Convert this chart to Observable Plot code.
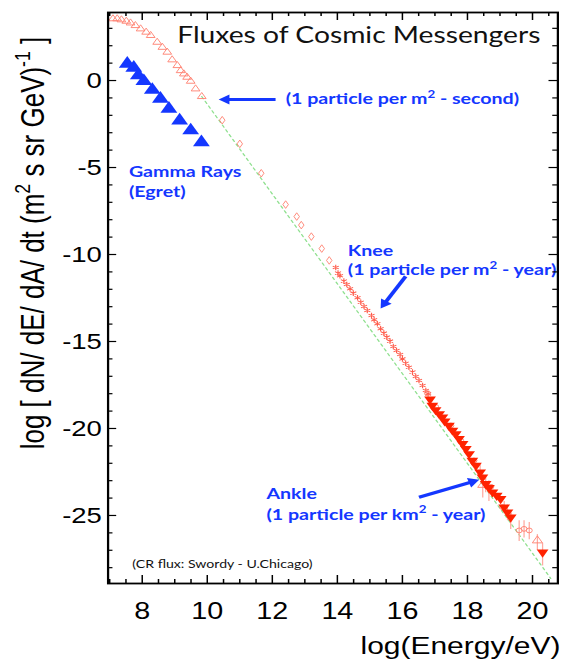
<!DOCTYPE html>
<html>
<head>
<meta charset="utf-8">
<script src="https://cdn.jsdelivr.net/npm/d3@7"></script>
<script src="https://cdn.jsdelivr.net/npm/@observablehq/plot@0.6"></script>
<style>
  html, body { margin: 0; padding: 0; background: #fff; overflow: hidden; }
  #chart svg { display: block; }
</style>
</head>
<body>
<div id="chart"></div>
<script>
// ---- Cosmic-ray flux: log10 flux vs log10 energy --------------------------

// Direct measurements below ~10 GeV (open up-triangles)
const lowEnergyX = [7.10, 7.23, 7.36, 7.51, 7.64, 7.79, 7.95, 8.12, 8.26, 8.46, 8.62, 8.77, 8.92, 9.08, 9.18, 9.28, 9.38, 9.49, 9.64, 9.83];
const lowEnergyY = [3.55, 3.55, 3.49, 3.41, 3.31, 3.16, 2.97, 2.78, 2.59, 2.20, 1.91, 1.63, 1.19, 0.86, 0.57, 0.38, 0.19, -0.04, -0.48, -0.92];

// Balloon / satellite points (open diamonds)
const midEnergyX = [10.46, 11.00, 11.66, 12.41, 12.75, 12.89, 13.20, 13.52, 13.75];
const midEnergyY = [-2.28, -3.64, -5.33, -7.13, -7.82, -8.31, -8.97, -9.66, -10.34];

// Air-shower points around the knee (asterisks)
const kneeX = [13.95, 14.02, 14.08, 14.20, 14.29, 14.39, 14.49, 14.62, 14.72, 14.82, 14.92, 15.05, 15.13, 15.23, 15.33, 15.43, 15.52, 15.62, 15.72, 15.82, 15.93, 16.00, 16.10, 16.20, 16.31, 16.41, 16.51, 16.62, 16.72, 16.79];
const kneeY = [-10.75, -11.07, -11.22, -11.53, -11.72, -11.97, -12.22, -12.49, -12.74, -12.99, -13.22, -13.51, -13.75, -13.98, -14.27, -14.52, -14.75, -14.98, -15.29, -15.52, -15.75, -16.00, -16.25, -16.48, -16.76, -17.01, -17.24, -17.53, -17.82, -18.01];

// Highest-energy points (filled down-triangles)
const highX = [16.85, 16.92, 17.02, 17.13, 17.23, 17.30, 17.43, 17.54, 17.64, 17.74, 17.85, 17.95, 18.05, 18.15, 18.26, 18.39, 18.46, 18.56, 18.66, 18.77, 18.90, 19.02, 19.13, 19.23, 19.33, 20.31];
const highY = [-18.32, -18.68, -18.93, -19.16, -19.35, -19.58, -19.83, -20.11, -20.31, -20.59, -20.88, -21.17, -21.46, -21.84, -22.13, -22.51, -22.80, -23.18, -23.41, -23.66, -23.85, -24.04, -24.52, -24.81, -25.10, -27.11];

// Other ankle-region measurements (open circles, open triangles)
const ankleX = [16.77, 17.02, 17.49, 17.79, 18.20, 18.72, 19.08, 19.25, 19.59, 19.74, 19.90];
const ankleY = [-17.97, -18.75, -19.83, -20.69, -21.84, -23.35, -24.52, -24.90, -25.86, -25.77, -25.86];
const ankleTriX = [18.47, 20.15];
const ankleTriY = [-23.25, -26.44];

// Error bars (lower and upper ends)
const errX  = [18.39, 18.47, 18.56, 18.66, 19.13, 19.23, 19.33, 19.59, 19.74, 19.90, 20.15, 20.31];
const errLo = [-22.9, -24.0, -23.7, -24.2, -24.9, -25.3, -25.8, -26.5, -26.3, -26.4, -27.0, -27.9];
const errHi = [-22.1, -22.6, -22.7, -23.0, -24.2, -24.4, -24.8, -25.3, -25.3, -25.4, -26.1, -26.6];

// Reference power law drawn through the spectrum
const fitX = [9.83, 20.56];
const fitY = [-0.92, -28.62];

// Gamma rays (EGRET)
const gammaX = [7.54, 7.74, 7.88, 8.05, 8.31, 8.56, 8.82, 9.15, 9.49, 9.82];
const gammaY = [0.96, 0.73, 0.29, -0.04, -0.54, -1.05, -1.63, -2.30, -2.87, -3.55];

// Annotations (text baselines in data units)
const noteText = ["(1 particle per m² - second)", "Gamma Rays", "(Egret)", "Knee", "(1 particle per m² - year)", "Ankle", "(1 particle per km² - year)"];
const noteX = [12.41, 7.59, 7.59, 14.32, 14.32, 11.82, 11.82];
const noteY = [-1.34, -5.56, -6.72, -10.11, -11.19, -24.06, -25.24];

// Annotation arrows: tail and tip
const arrowTailX = [12.10, 16.10, 16.51];
const arrowTailY = [-1.09, -11.26, -23.95];
const arrowTipX = [10.35, 15.33, 18.36];
const arrowTipY = [-1.09, -13.10, -22.95];

// Axes
const xMajorTicks = [8, 10, 12, 14, 16, 18, 20];
const xTickLabels = ["8", "10", "12", "14", "16", "18", "20"];
const yMajorTicks = [0, -5, -10, -15, -20, -25];
const yTickLabels = ["0", "-5", "-10", "-15", "-20", "-25"];
const xTitle = "log(Energy/eV)";
const yTitle = "log [ dN/ dE/ dA/ dt (m² s sr GeV)⁻¹ ]";
const chartTitle = "Fluxes of Cosmic Messengers";
const creditText = "(CR flux: Swordy - U.Chicago)";

// ---- Layout ---------------------------------------------------------------
const W = 449, H = 660;            // drawing units; stretched to 561px wide
const OUT_W = 561;
const ML = 86, MR = 3, MT = 12, MB = 77;
const innerW = W - ML - MR, innerH = H - MT - MB;
const xDomain = [6.95, 20.78];
const yDomain = [-28.91, 3.91];

const BLUE = "#1437ff";
const CR_OPEN = "#ff7f6e";
const CR_STAR = "#ff5a4a";
const CR_FILL = "#ff2200";
const ERR = "#ffa99f";
const FIT = "#8fe08f";
const AXIS_FONT = "'Liberation Sans', Arial, sans-serif";
const NOTE_FONT = "Lato, 'Open Sans', sans-serif";

const zip = (xs, ys) => xs.map((x, i) => ({x, y: ys[i]}));
const lowPts = zip(lowEnergyX, lowEnergyY);
const midPts = zip(midEnergyX, midEnergyY);
const kneePts = zip(kneeX, kneeY);
const highPts = zip(highX, highY);
const anklePts = zip(ankleX, ankleY);
const ankleTriPts = zip(ankleTriX, ankleTriY);
const errBars = errX.map((x, i) => ({x, lo: errLo[i], hi: errHi[i]}));
const fitPts = zip(fitX, fitY);
const gammaPts = zip(gammaX, gammaY);
const notes = noteText.map((t, i) => ({t, x: noteX[i], y: noteY[i]}));

const xMinorTicks = d3.range(7, 20.75, 0.5).filter(v => !xMajorTicks.includes(v));
const yMinorTicks = d3.range(-28, 4, 1).filter(v => !yMajorTicks.includes(v));

// Arrow heads: filled triangles whose tip lands on the arrow target
const HEAD_R = 3.7;
const sx = d3.scaleLinear().domain(xDomain).range([ML, W - MR]);
const sy = d3.scaleLinear().domain(yDomain).range([H - MB, MT]);
const arrows = arrowTipX.map((tx, i) => {
  const x0 = sx(arrowTailX[i]), y0 = sy(arrowTailY[i]);
  const x1 = sx(tx), y1 = sy(arrowTipY[i]);
  const dx = x1 - x0, dy = y1 - y0, n = Math.hypot(dx, dy);
  const back = 1.555 * HEAD_R;
  const cx = x1 - dx / n * back, cy = y1 - dy / n * back;
  return {
    x1: arrowTailX[i], y1: arrowTailY[i],
    x2: sx.invert(cx), y2: sy.invert(cy),
    angle: Math.atan2(dx, -dy) * 180 / Math.PI
  };
});

const tickStyle = {stroke: "black", strokeWidth: 1.2};

const svg = Plot.plot({
  width: W,
  height: H,
  marginLeft: ML,
  marginRight: MR,
  marginTop: MT,
  marginBottom: MB,
  x: {domain: xDomain, axis: null},
  y: {domain: yDomain, axis: null},
  style: {background: "white", color: "black", overflow: "visible"},
  marks: [
    // power-law guide
    Plot.line(fitPts, {x: "x", y: "y", stroke: FIT, strokeWidth: 1.1, strokeDasharray: "2.5,3"}),

    // cosmic-ray data
    Plot.ruleX(errBars, {x: "x", y1: "lo", y2: "hi", stroke: ERR, strokeWidth: 1}),
    Plot.dot(lowPts, {x: "x", y: "y", symbol: "triangle", r: 2.6, fill: "none", stroke: CR_OPEN, strokeWidth: 0.8}),
    Plot.dot(midPts, {x: "x", y: "y", symbol: "diamond", r: 2.3, fill: "none", stroke: CR_OPEN, strokeWidth: 0.8}),
    Plot.dot(kneePts, {x: "x", y: "y", symbol: "asterisk", r: 2.6, stroke: CR_STAR, strokeWidth: 0.9}),
    Plot.dot(anklePts, {x: "x", y: "y", symbol: "circle", r: 2.4, fill: "none", stroke: CR_OPEN, strokeWidth: 0.8}),
    Plot.dot(ankleTriPts, {x: "x", y: "y", symbol: "triangle", r: 3, fill: "none", stroke: CR_OPEN, strokeWidth: 0.8}),
    Plot.dot(highPts, {x: "x", y: "y", symbol: "triangle", rotate: 180, r: 3.5, fill: CR_FILL, stroke: "none"}),

    // gamma rays
    Plot.dot(gammaPts, {x: "x", y: "y", symbol: "triangle", r: 5, fill: BLUE, stroke: "none"}),

    // annotation arrows and labels
    Plot.link(arrows, {x1: "x1", y1: "y1", x2: "x2", y2: "y2", stroke: BLUE, strokeWidth: 3.2}),
    Plot.dot(arrows, {x: "x2", y: "y2", symbol: "triangle", rotate: "angle", r: HEAD_R, fill: BLUE, stroke: "none"}),
    Plot.text(notes, {x: "x", y: "y", text: "t", textAnchor: "start", lineAnchor: "bottom",
      fill: BLUE, fontWeight: "bold", fontSize: 15.7, fontFamily: NOTE_FONT}),

    // frame with inward ticks on all four sides
    Plot.frame({stroke: "black", strokeWidth: 1.8}),
    Plot.tickX(xMajorTicks, {x: d => d, insetTop: innerH - 8, ...tickStyle}),
    Plot.tickX(xMinorTicks, {x: d => d, insetTop: innerH - 4, ...tickStyle}),
    Plot.tickX(xMajorTicks, {x: d => d, insetBottom: innerH - 8, ...tickStyle}),
    Plot.tickX(xMinorTicks, {x: d => d, insetBottom: innerH - 4, ...tickStyle}),
    Plot.tickY(yMajorTicks, {y: d => d, insetRight: innerW - 7, ...tickStyle}),
    Plot.tickY(yMinorTicks, {y: d => d, insetRight: innerW - 4, ...tickStyle}),
    Plot.tickY(yMajorTicks, {y: d => d, insetLeft: innerW - 7, ...tickStyle}),
    Plot.tickY(yMinorTicks, {y: d => d, insetLeft: innerW - 4, ...tickStyle}),

    // tick labels
    Plot.text(xMajorTicks, {x: d => d, text: (d, i) => xTickLabels[i], frameAnchor: "bottom",
      lineAnchor: "top", dy: 19, fontSize: 23, fontFamily: AXIS_FONT, fill: "black"}),
    Plot.text(yMajorTicks, {y: d => d, text: (d, i) => yTickLabels[i], frameAnchor: "left",
      textAnchor: "end", lineAnchor: "middle", dx: -5, fontSize: 22, fontFamily: AXIS_FONT, fill: "black"}),

    // axis titles, chart title, credit
    Plot.text([xTitle], {frameAnchor: "bottom-right", textAnchor: "end", lineAnchor: "bottom",
      dx: 2, dy: 70, fontSize: 24, fontFamily: AXIS_FONT, fill: "black"}),
    Plot.text([yTitle], {frameAnchor: "left", rotate: -90, textAnchor: "middle", lineAnchor: "bottom",
      dx: -51.6, dy: -55, fontSize: 26, fontFamily: AXIS_FONT, fill: "black"}),
    Plot.text([chartTitle], {frameAnchor: "top-right", textAnchor: "end", lineAnchor: "bottom",
      dx: -14, dy: 30, fontSize: 22.6, fontFamily: NOTE_FONT, fill: "#111"}),
    Plot.text([creditText], {frameAnchor: "bottom-left", textAnchor: "start", lineAnchor: "bottom",
      dx: 19.4, dy: -15.7, fontSize: 11.3, fontFamily: NOTE_FONT, fill: "#111"})
  ]
});

// Stretch the drawing horizontally to the page width
svg.setAttribute("width", OUT_W);
svg.setAttribute("height", H);
svg.setAttribute("viewBox", `0 0 ${W} ${H}`);
svg.setAttribute("preserveAspectRatio", "none");
svg.style.maxWidth = "none";
svg.style.width = OUT_W + "px";
svg.style.height = H + "px";

document.getElementById("chart").appendChild(svg);

// Typeset the exponents (², ⁻¹) as raised, smaller digits
const SVG_NS = "http://www.w3.org/2000/svg";
svg.querySelectorAll("text").forEach(el => {
  const s = el.textContent;
  if (!/[²⁻¹]/.test(s)) return;
  const size = parseFloat(getComputedStyle(el).fontSize) || 16;
  const shift = (size * 0.42).toFixed(2);
  el.textContent = "";
  s.split(/(²|⁻¹)/).forEach(part => {
    if (!part) return;
    const t = document.createElementNS(SVG_NS, "tspan");
    if (part === "²" || part === "⁻¹") {
      t.textContent = part === "²" ? "2" : "-1";
      t.setAttribute("baseline-shift", shift);
      t.setAttribute("font-size", (size * 0.68).toFixed(2));
    } else {
      t.textContent = part;
    }
    el.appendChild(t);
  });
});
</script>
</body>
</html>
